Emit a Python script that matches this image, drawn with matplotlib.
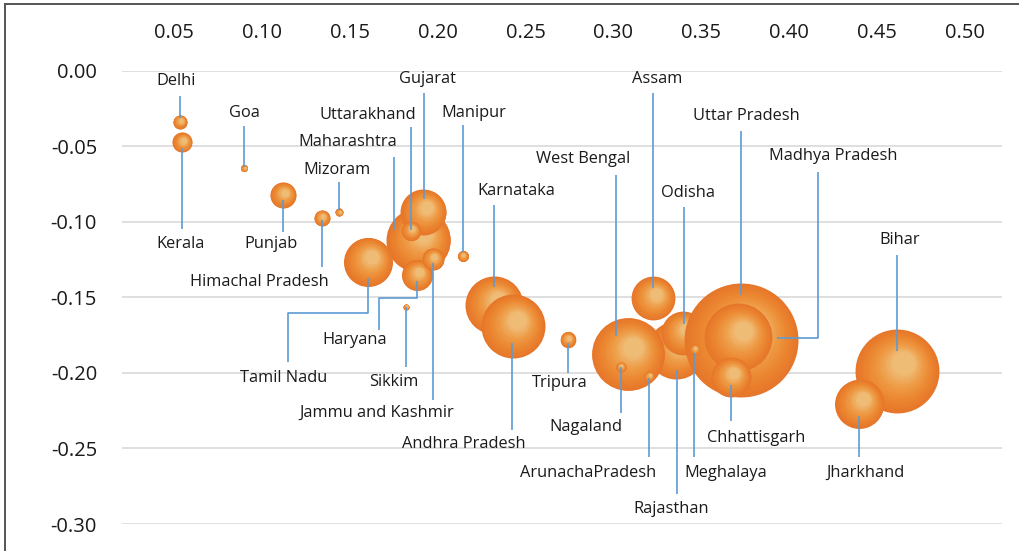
import numpy as np
import matplotlib
matplotlib.use("Agg")
import matplotlib.pyplot as plt
from matplotlib.colors import to_rgb
from matplotlib.transforms import Affine2D
from matplotlib.lines import Line2D

plt.rcParams["font.family"] = ["Open Sans", "DejaVu Sans"]

# states in drawing order (back to front)
states = ["Rajasthan", "Odisha", "Uttar Pradesh", "Madhya Pradesh", "Maharashtra",
          "Karnataka", "Andhra Pradesh", "West Bengal", "Bihar", "Tamil Nadu",
          "Gujarat", "Assam", "Jharkhand", "Chhattisgarh", "Haryana", "Punjab",
          "Jammu and Kashmir", "Kerala", "Uttarakhand", "Himachal Pradesh",
          "Tripura", "Delhi", "Manipur", "Nagaland", "ArunachaPradesh",
          "Meghalaya", "Mizoram", "Goa", "Sikkim"]
x_vals = [0.3356, 0.3395, 0.3725, 0.3708, 0.1891,
          0.2320, 0.2427, 0.3081, 0.4612, 0.1605,
          0.1919, 0.3225, 0.4399, 0.3667, 0.1881, 0.1120,
          0.1972, 0.0547, 0.1848, 0.1340,
          0.2739, 0.0534, 0.2142, 0.3041, 0.3202,
          0.3460, 0.1440, 0.0900, 0.1821]
y_vals = [-0.1850, -0.1737, -0.1783, -0.1764, -0.1121,
          -0.1552, -0.1691, -0.1876, -0.1987, -0.1264,
          -0.0934, -0.1507, -0.2203, -0.2026, -0.1353, -0.0823,
          -0.1247, -0.0474, -0.1060, -0.0974,
          -0.1779, -0.0338, -0.1227, -0.1960, -0.2022,
          -0.1843, -0.0938, -0.0646, -0.1563]
sizes = [52.6, 30, 203, 72, 64,
         52.6, 64, 83, 110, 37.5,
         33, 30, 37.5, 25, 15, 10.6,
         7.6, 6.25, 5.9, 4.0,
         3.8, 3.1, 1.9, 1.6, 1.6,
         1.6, 1.0, 0.77, 0.56]

x_ticks = [0.05, 0.10, 0.15, 0.20, 0.25, 0.30, 0.35, 0.40, 0.45, 0.50]
y_ticks = [0.00, -0.05, -0.10, -0.15, -0.20, -0.25, -0.30]

# label positions (data units)
label_pos = {
    "Delhi": (0.0515, -0.0068), "Goa": (0.0901, -0.0280), "Kerala": (0.0538, -0.1146),
    "Punjab": (0.1052, -0.1146), "Mizoram": (0.1429, -0.0658),
    "Maharashtra": (0.1490, -0.0472), "Uttarakhand": (0.1601, -0.0290),
    "Gujarat": (0.1943, -0.0057), "Manipur": (0.2206, -0.0280),
    "Himachal Pradesh": (0.0987, -0.1399), "Tamil Nadu": (0.1122, -0.2032),
    "Haryana": (0.1527, -0.1783), "Sikkim": (0.1750, -0.2060),
    "Jammu and Kashmir": (0.1654, -0.2264), "Andhra Pradesh": (0.2148, -0.2472),
    "Karnataka": (0.2445, -0.0799), "West Bengal": (0.2828, -0.0583),
    "Assam": (0.3247, -0.0057), "Odisha": (0.3424, -0.0812),
    "Uttar Pradesh": (0.3758, -0.0297), "Madhya Pradesh": (0.4250, -0.0567),
    "Bihar": (0.4630, -0.1121), "Tripura": (0.2693, -0.2068),
    "Nagaland": (0.2842, -0.2360), "ArunachaPradesh": (0.2857, -0.2664),
    "Rajasthan": (0.3331, -0.2904), "Meghalaya": (0.3637, -0.2664),
    "Chhattisgarh": (0.3812, -0.2431), "Jharkhand": (0.4431, -0.2664),
}

# leader lines (data units)
leaders = {
    "Delhi": [(0.0534, -0.0168), (0.0534, -0.0313)],
    "Kerala": [(0.0547, -0.0512), (0.0547, -0.1048)],
    "Goa": [(0.0900, -0.0366), (0.0900, -0.0638)],
    "Punjab": [(0.1120, -0.0856), (0.1120, -0.1068)],
    "Himachal Pradesh": [(0.1340, -0.0989), (0.1340, -0.1300)],
    "Mizoram": [(0.1440, -0.0737), (0.1440, -0.0923)],
    "Maharashtra": [(0.1751, -0.0572), (0.1751, -0.1055)],
    "Uttarakhand": [(0.1848, -0.0373), (0.1848, -0.1055)],
    "Gujarat": [(0.1920, -0.0148), (0.1920, -0.0850)],
    "Manipur": [(0.2142, -0.0360), (0.2142, -0.1201)],
    "Tamil Nadu": [(0.1148, -0.1929), (0.1148, -0.1605), (0.1605, -0.1605), (0.1605, -0.1373)],
    "Haryana": [(0.1666, -0.1717), (0.1666, -0.1503), (0.1881, -0.1503), (0.1881, -0.1393)],
    "Sikkim": [(0.1821, -0.1563), (0.1821, -0.1962)],
    "Jammu and Kashmir": [(0.1975, -0.1274), (0.1975, -0.2181)],
    "Karnataka": [(0.2320, -0.0890), (0.2320, -0.1433)],
    "Andhra Pradesh": [(0.2423, -0.1803), (0.2423, -0.2380)],
    "Tripura": [(0.2739, -0.1803), (0.2739, -0.2000)],
    "West Bengal": [(0.3014, -0.0691), (0.3014, -0.1757)],
    "Nagaland": [(0.3041, -0.1960), (0.3041, -0.2265)],
    "Assam": [(0.3225, -0.0148), (0.3225, -0.1439)],
    "ArunachaPradesh": [(0.3202, -0.2035), (0.3202, -0.2556)],
    "Odisha": [(0.3402, -0.0903), (0.3402, -0.1678)],
    "Rajasthan": [(0.3360, -0.1982), (0.3360, -0.2803)],
    "Meghalaya": [(0.3460, -0.1870), (0.3460, -0.2556)],
    "Uttar Pradesh": [(0.3727, -0.0400), (0.3727, -0.1486)],
    "Madhya Pradesh": [(0.4162, -0.0669), (0.4162, -0.1768), (0.3931, -0.1768)],
    "Chhattisgarh": [(0.3667, -0.2082), (0.3667, -0.2320)],
    "Bihar": [(0.4612, -0.1220), (0.4612, -0.1857)],
    "Jharkhand": [(0.4397, -0.2285), (0.4397, -0.2556)],
}

W, H = 1019, 551
fig = plt.figure(figsize=(W / 100, H / 100), dpi=100)
ax = fig.add_axes([122 / W, 1 - 524 / H, 880 / W, (524 - 70.7) / H])
ax.set_xlim(0.0205, 0.521)
ax.set_ylim(-0.30, 0.0)

# gridlines (horizontal only)
for yt in y_ticks:
    ax.axhline(yt, color="#d9d9d9", lw=1.2, zorder=0)

# shaded bubbles: stacked circles drifting to the upper-right highlight
stops_t = [0.0, 0.3, 0.65, 1.0]
stops_c = [np.array(to_rgb(c)) for c in ["#e6762a", "#eb8530", "#ee9c46", "#efbc76"]]


def shade(t):
    for k in range(len(stops_t) - 1):
        if t <= stops_t[k + 1]:
            u = (t - stops_t[k]) / (stops_t[k + 1] - stops_t[k])
            return stops_c[k] + (stops_c[k + 1] - stops_c[k]) * u
    return stops_c[-1]


n_layers = 32
for xv, yv, sz in zip(x_vals, y_vals, sizes):
    r = 4.0 * np.sqrt(sz)  # radius in pixels
    for i in range(n_layers):
        t = i / (n_layers - 1)
        f = 1 - 0.74 * t
        tr = ax.transData + Affine2D().translate(0.15 * r * t, 0.19 * r * t)
        d_pt = 2 * r * f * 72 / 100
        ax.scatter([xv], [yv], s=d_pt ** 2, color=shade(t), linewidths=0,
                   transform=tr, zorder=2)

# leader lines and labels
for name in states:
    pts = leaders[name]
    ax.plot([p[0] for p in pts], [p[1] for p in pts], color="#5b9bd5",
            lw=1.2, zorder=3, solid_capstyle="butt")
    lx, ly = label_pos[name]
    ax.text(lx, ly, name, ha="center", va="center", fontsize=11.8,
            color="#1a1a1a", zorder=4)

ax.xaxis.tick_top()
ax.set_xticks(x_ticks)
ax.set_xticklabels([f"{v:.2f}" for v in x_ticks])
ax.set_yticks(y_ticks)
ax.set_yticklabels([f"{v:.2f}" if v != 0 else "0.00" for v in y_ticks])
ax.tick_params(axis="both", length=0, labelsize=14.5, labelcolor="#1a1a1a")
ax.tick_params(axis="x", pad=20)
ax.tick_params(axis="y", pad=18)
for s in ax.spines.values():
    s.set_visible(False)

# outer frame (left and top edges visible)
fig.add_artist(Line2D([4.5 / W, 4.5 / W], [0, 1 - 4 / H], color="#555555", lw=1.4,
                      transform=fig.transFigure))
fig.add_artist(Line2D([4.5 / W, 1], [1 - 4 / H, 1 - 4 / H], color="#555555", lw=1.4,
                      transform=fig.transFigure))

fig.savefig("out.png", dpi=100)
